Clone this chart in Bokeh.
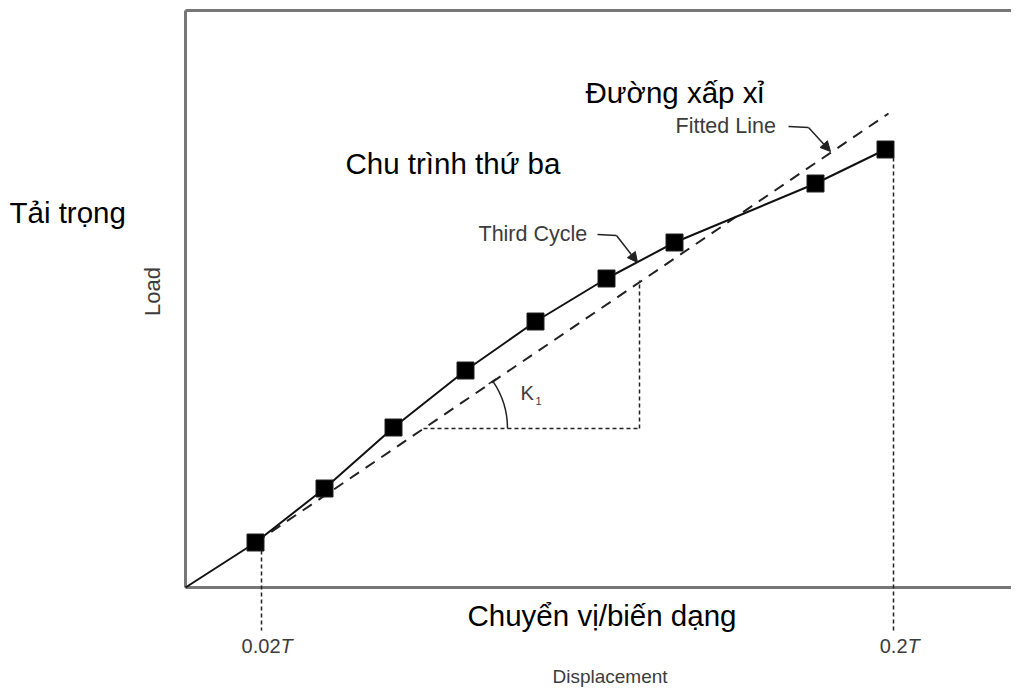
import math
from bokeh.plotting import figure
from bokeh.models import Range1d, Arrow, NormalHead
from bokeh.core.properties import value
from bokeh.embed import file_html
from bokeh.resources import INLINE

# ---------------- data (schematic units, origin at the axes corner) ----------------
cycle_x = [0, 70, 139, 208, 280, 350, 421, 489, 630, 700]
cycle_y = [0, 45, 99, 160, 217, 266, 309, 345, 404, 438]
point_x = cycle_x[1:]
point_y = cycle_y[1:]
fit_x = [70, 703]
fit_y = [45, 474]
tick_x = [76, 708]
tick_num = ["0.02", "0.2"]
tick_sym = ["T", "T"]
frame_w = 834
frame_h = 577

FONT = "Liberation Sans"
GREY = "#3c3c3c"
AXC = "#777777"

p = figure(width=1011, height=687, output_backend="svg", toolbar_location=None,
           x_range=Range1d(-185, 826), y_range=Range1d(-100, 587),
           x_axis_type=None, y_axis_type=None, min_border=0)
p.outline_line_color = None
p.grid.visible = False
p.background_fill_color = "white"
p.border_fill_color = "white"

# frame (left, bottom, top)
p.line([0, 0], [0, frame_h], line_color=AXC, line_width=3)
p.line([0, frame_w], [0, 0], line_color=AXC, line_width=3)
p.line([0, frame_w], [frame_h, frame_h], line_color=AXC, line_width=3)

# fitted line (dashed)
p.line(fit_x, fit_y, line_color="#222222", line_width=2, line_dash="11 8")

# slope triangle
p.line([238, 454], [159, 159], line_color="#222222", line_width=1.5, line_dash="4 3")
p.line([454, 454], [159, 307], line_color="#222222", line_width=1.5, line_dash="4 3")
p.arc(x=[238], y=[159], radius=84, start_angle=0, end_angle=0.6,
      line_color="#222222", line_width=1.5)
ex, ey = 238 + 84 * math.cos(0.6), 159 + 84 * math.sin(0.6)
p.line([ex - 5 * math.cos(0.6), ex + 4 * math.cos(0.6)],
       [ey - 5 * math.sin(0.6), ey + 4 * math.sin(0.6)], line_color="#222222", line_width=1.5)
p.text(x=[335], y=[195], text=["K"], text_font=value(FONT), text_font_size="20px",
       text_color=GREY, text_align="left", text_baseline="middle")
p.text(x=[350], y=[187], text=["1"], text_font=value(FONT), text_font_size="11px",
       text_color=GREY, text_align="left", text_baseline="middle")

# third cycle curve
p.line(cycle_x, cycle_y, line_color="#111111", line_width=2)
p.scatter(point_x, point_y, marker="square", size=17, fill_color="black", line_color="#222222")

# drop lines and tick labels
for tx, ty in zip(tick_x, [point_y[0], point_y[-1]]):
    p.line([tx, tx], [ty - 8, -43], line_color="#222222", line_width=1.5, line_dash="4 3")
p.text(x=[tick_x[0] + 19, tick_x[1] + 14], y=[-58, -58], text=tick_num, text_font=value(FONT),
       text_font_size="20px", text_color=GREY, text_align="right", text_baseline="middle")
p.text(x=[tick_x[0] + 19, tick_x[1] + 14], y=[-58, -58], text=tick_sym, text_font=value(FONT),
       text_font_size="20px", text_font_style="italic", text_color=GREY,
       text_align="left", text_baseline="middle")

# axis titles
p.text(x=[-33], y=[296], text=["Load"], angle=math.pi / 2, text_font=value(FONT),
       text_font_size="22px", text_color=GREY, text_align="center", text_baseline="middle")
p.text(x=[367], y=[-99], text=["Displacement"], text_font=value(FONT),
       text_font_size="19px", text_color=GREY, text_align="left", text_baseline="bottom")

# callouts
p.text(x=[293], y=[354], text=["Third Cycle"], text_font=value(FONT), text_font_size="21.5px",
       text_color=GREY, text_align="left", text_baseline="middle")
p.line([412, 431], [353, 352], line_color="#222222", line_width=1.5)
p.add_layout(Arrow(end=NormalHead(size=10, fill_color="#222222", line_color="#222222"),
                   x_start=431, y_start=352, x_end=452, y_end=325,
                   line_color="#222222", line_width=1.5))
p.text(x=[490], y=[462], text=["Fitted Line"], text_font=value(FONT), text_font_size="21.5px",
       text_color=GREY, text_align="left", text_baseline="middle")
p.line([603, 623], [461, 460], line_color="#222222", line_width=1.5)
p.add_layout(Arrow(end=NormalHead(size=10, fill_color="#222222", line_color="#222222"),
                   x_start=623, y_start=460, x_end=645, y_end=436,
                   line_color="#222222", line_width=1.5))

# Vietnamese annotations
big = dict(text_font=value(FONT), text_font_size="29.5px", text_color="black",
           text_align="left", text_baseline="middle")
p.text(x=[400], y=[495], text=["Đường xấp xỉ"], **big)
p.text(x=[160], y=[424], text=["Chu trình thứ ba"], **big)
p.text(x=[-176], y=[375], text=["Tải trọng"], **big)
p.text(x=[282], y=[-28], text=["Chuyển vị/biến dạng"], **big)

open("out.html", "w").write(file_html(p, INLINE))
